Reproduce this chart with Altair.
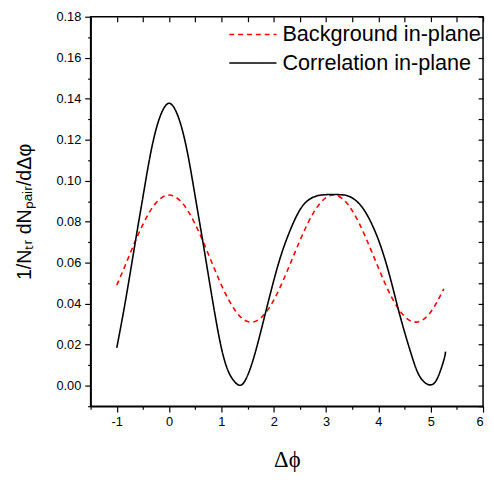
import altair as alt
import pandas as pd

# ---- data ----
phi = [-1.0, -0.875, -0.75, -0.625, -0.5, -0.375, -0.25, -0.125,
       0.0, 0.125, 0.25, 0.375, 0.5, 0.625, 0.75, 0.875,
       1.0, 1.125, 1.25, 1.375, 1.5, 1.625, 1.75, 1.875,
       2.0, 2.125, 2.25, 2.375, 2.5, 2.625, 2.75, 2.875,
       3.0, 3.125, 3.25, 3.375, 3.5, 3.625, 3.75, 3.875,
       4.0, 4.125, 4.25, 4.375, 4.5, 4.625, 4.75, 4.875,
       5.0, 5.125, 5.25]

background = [0.0491, 0.0565, 0.0642, 0.0718, 0.0787, 0.0847, 0.0892, 0.0920,
              0.0930, 0.0920, 0.0892, 0.0847, 0.0787, 0.0718, 0.0642, 0.0565,
              0.0491, 0.0425, 0.0372, 0.0333, 0.0313, 0.0312, 0.0330, 0.0366,
              0.0417, 0.0482, 0.0555, 0.0632, 0.0708, 0.0779, 0.0840, 0.0887,
              0.0918, 0.0930, 0.0923, 0.0897, 0.0854, 0.0796, 0.0727, 0.0652,
              0.0575, 0.0500, 0.0433, 0.0378, 0.0338, 0.0315, 0.0311, 0.0326,
              0.0360, 0.0411, 0.0473]

phi_corr = phi + [5.283]
correlation = [0.0185, 0.0355, 0.0540, 0.0733, 0.0921, 0.1105, 0.1250, 0.1342,
               0.1378, 0.1342, 0.1250, 0.1105, 0.0921, 0.0733, 0.0540, 0.0350,
               0.0183, 0.0074, 0.0020, 0.0003, 0.0050, 0.0143, 0.0262, 0.0389,
               0.0513, 0.0625, 0.0717, 0.0795, 0.0858, 0.0898, 0.0919, 0.0929,
               0.0932, 0.0933, 0.0932, 0.0929, 0.0916, 0.0890, 0.0848, 0.0788,
               0.0712, 0.0617, 0.0503, 0.0378, 0.0262, 0.0156, 0.0065, 0.0018,
               0.0004, 0.0035, 0.0125, 0.0166]

series_names = ["Background in-plane", "Correlation in-plane"]

x_major = [-1, 0, 1, 2, 3, 4, 5, 6]
x_minor = [-1.5, -0.5, 0.5, 1.5, 2.5, 3.5, 4.5, 5.5]
y_major = [0.00, 0.02, 0.04, 0.06, 0.08, 0.10, 0.12, 0.14, 0.16, 0.18]
y_minor = [-0.01, 0.01, 0.03, 0.05, 0.07, 0.09, 0.11, 0.13, 0.15, 0.17]
x_all = sorted(x_major + x_minor)
y_all = sorted(y_major + y_minor)

df = pd.DataFrame({
    "phi": phi + phi_corr,
    "value": background + correlation,
    "series": [series_names[0]] * len(phi) + [series_names[1]] * len(phi_corr),
})

xscale = alt.Scale(domain=[-1.5, 6], nice=False, zero=False)
yscale = alt.Scale(domain=[-0.01, 0.18], nice=False, zero=False)

legend = alt.Legend(
    title=None, orient="none", legendX=152, legendY=5, padding=0,
    symbolType="M-2,0H2", symbolSize=576, symbolStrokeWidth=1.6,
    labelFont="Liberation Sans", labelFontSize=22, labelColor="black",
    labelOffset=17, rowPadding=5, labelLimit=0,
)

base = alt.Chart(df)

lines = base.mark_line(strokeWidth=1.6, interpolate="natural").encode(
    x=alt.X("phi:Q", scale=xscale,
            axis=alt.Axis(orient="bottom", values=x_major, labelExpr="'' + datum.value",
                          tickSize=6, labelPadding=4, title="Δϕ",
                          titleFont="Liberation Serif", titleFontSize=23,
                          titleFontWeight="normal", titlePadding=20)),
    y=alt.Y("value:Q", scale=yscale,
            axis=alt.Axis(orient="left", values=y_major, format=".2f",
                          tickSize=6, labelPadding=4,
                          title="1/Nₜᵣ dNₚₐᵢᵣ/dΔφ",
                          titleFont="Liberation Sans", titleFontSize=20,
                          titleFontWeight="normal", titlePadding=22)),
    color=alt.Color("series:N", scale=alt.Scale(domain=series_names, range=["#ff0000", "#000000"]),
                    legend=legend),
    strokeDash=alt.StrokeDash("series:N", scale=alt.Scale(domain=series_names, range=[[5, 4], [1, 0]]),
                              legend=legend),
)

minor = base.mark_line(opacity=0).encode(
    x=alt.X("phi:Q", scale=xscale,
            axis=alt.Axis(orient="bottom", values=x_minor, tickSize=3, labels=False,
                          domain=False, title=None)),
    y=alt.Y("value:Q", scale=yscale,
            axis=alt.Axis(orient="left", values=y_minor, tickSize=3, labels=False,
                          domain=False, title=None)),
    detail="series:N",
)

mirror = base.mark_line(opacity=0).encode(
    x=alt.X("phi:Q", scale=xscale,
            axis=alt.Axis(orient="top", values=x_all, tickSize=5, offset=-5, labels=False,
                          domain=False, title=None)),
    y=alt.Y("value:Q", scale=yscale,
            axis=alt.Axis(orient="right", values=y_all, tickSize=5, offset=-5, labels=False,
                          domain=False, title=None)),
    detail="series:N",
)

chart = alt.layer(lines, minor, mirror).resolve_axis(
    x="independent", y="independent"
).properties(
    width=399, height=396,
    autosize=alt.AutoSizeParams(type="none"),
    padding={"left": 84, "top": 5, "right": 3, "bottom": 63},
).configure_axis(
    labelFont="Liberation Sans", labelFontSize=13, labelColor="black",
    tickColor="black", domainColor="black", domainWidth=1.5, tickWidth=1.2,
    grid=False, titleColor="black",
).configure_view(stroke="black", strokeWidth=1.5)

chart.save("out.html", embed_options={"renderer": "svg", "actions": False})
